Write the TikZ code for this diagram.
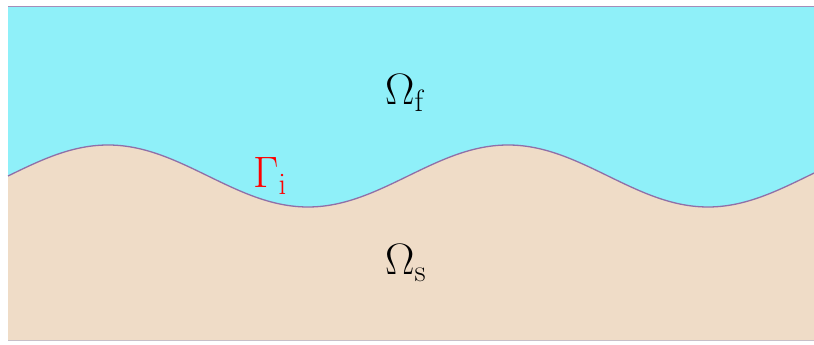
\documentclass[tikz,border=0pt]{standalone}
\usepackage{fix-cm}
\definecolor{fluidcol}{HTML}{8FF0F9}
\definecolor{solidcol}{HTML}{EFDCC7}
\definecolor{ifacecol}{HTML}{8F70A8}
\definecolor{botcol}{HTML}{C8BFC8}
\tikzset{
  lbl/.style={inner sep=0pt, anchor=base west, font=\fontsize{44}{50}\selectfont},
  wave/.style={draw=ifacecol, line width=1.3pt}
}
\begin{document}
\begin{tikzpicture}[x=1pt,y=1pt]
\useasboundingbox (0,0) rectangle (814,345);
\fill[fluidcol] (8,5) rectangle (814,338.5);
\fill[solidcol] (8,5) -- plot[domain=8:814,samples=200,smooth] (\x,{169+31*cos(0.9*(\x-108))}) -- (814,5) -- cycle;
\draw[wave] plot[domain=8:814,samples=200,smooth] (\x,{169+31*cos(0.9*(\x-108))});
\draw[ifacecol!80, line width=1.1pt] (8,338.5) -- (814,338.5);
\draw[botcol, line width=0.8pt] (8,5) -- (814,5);
\node[lbl] (of) at (385,240) {$\Omega_{\mathrm{f}}$};
\node[lbl] (os) at (385,70) {$\Omega_{\mathrm{s}}$};
\node[lbl, text=red] (gi) at (253,157) {$\Gamma_{\mathrm{i}}$};
\end{tikzpicture}
\end{document}
